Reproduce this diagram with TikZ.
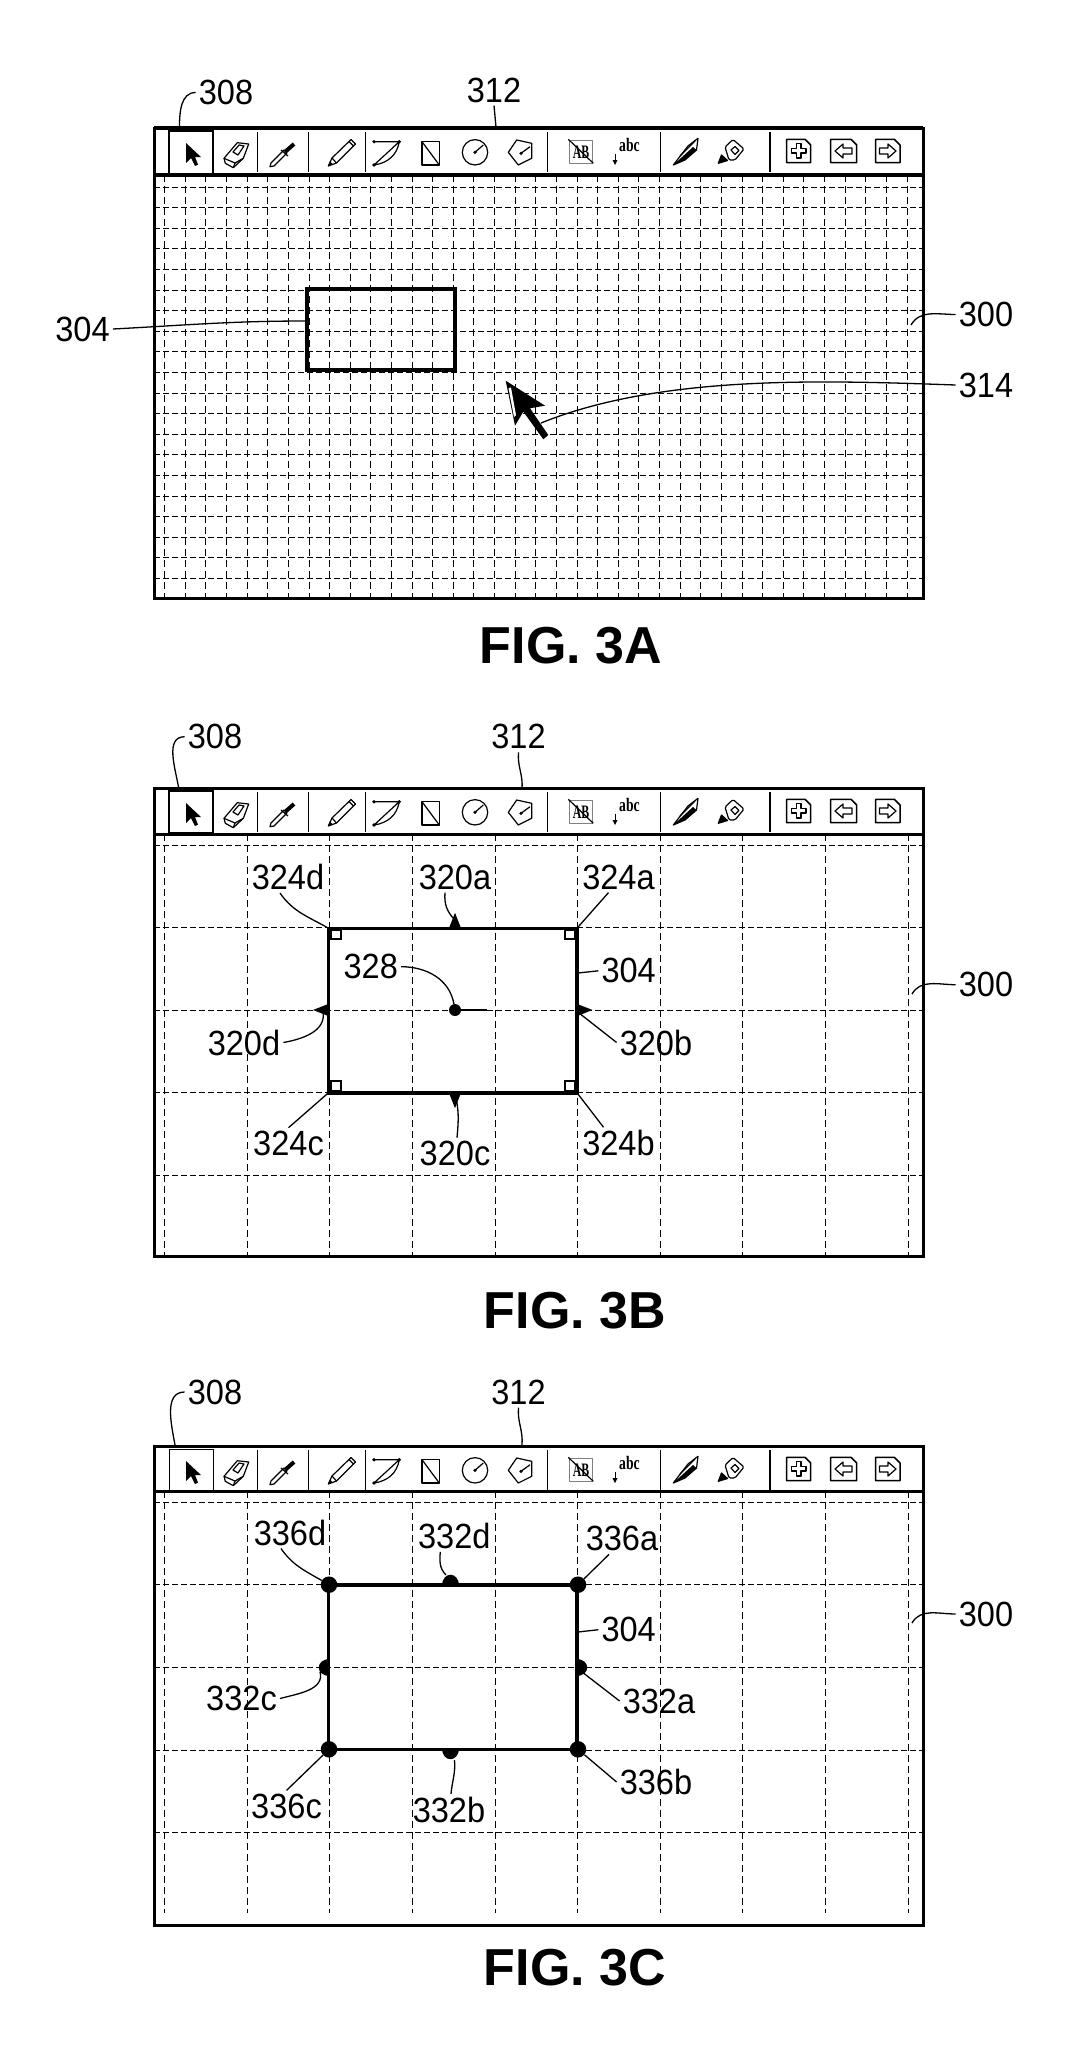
\documentclass[tikz,border=0pt]{standalone}
\usepackage{fontspec}
\setmainfont{Liberation Sans}
\newfontfamily\labfont[FakeStretch=0.93]{Liberation Sans}
\newfontfamily\iconfont{Liberation Serif}
\tikzset{
	lab/.style = {inner sep = 3pt, font = \labfont\fontsize{35}{35}\selectfont},
	figlab/.style = {inner sep = 0pt, font = \fontsize{52}{52}\selectfont\bfseries},
	frame/.style = {line width = 3pt},
	hgrid/.style = {line width = 1.2pt, dash pattern = on 6pt off 3pt},
	vgrid/.style = {line width = 1.2pt, dash pattern = on 7pt off 4pt},
	leader/.style = {line width = 1.3pt},
	shape304/.style = {draw, line width = 3.8pt, inner sep = 0pt, outer sep = 0pt},
	icon/.style = {line width = 1.2pt, line join = round},
	sep/.style = {line width = 1.5pt},
	corner/.style = {line width = 1.2pt},
	halfdot/.pic = {\fill (-8.5, 1) .. controls (-8.5, -13.5) and (8.5, -13.5) .. (8.5, 1) -- cycle;},
	tabmark/.pic = {\fill (-6.5, 1) -- (0, -15.5) -- (6.5, 1) -- cycle;}
}
\newcommand{\toolbar}[3]{
	\begin{scope}[shift = {(0, #1)}]
		%%%%%%%%%%%%%
		\draw [line width = #3] (169, 3) rectangle (213, #2);
		\foreach \sx in {257.5, 308.6, 365.7, 547.3, 660.3, 770} {
			\draw [sep] (\sx, 4) -- (\sx, 44);
		}
		%%%%%%%%%%%%%
		\fill (186, 15) -- (186, 35) -- (191, 30) -- (195, 38) -- (198, 36.5) -- (195, 29) -- (201, 29) -- cycle;
		\draw [icon] (224, 30.3) -- (237.3, 14.7) -- (248.7, 16) -- (243.3, 30.3) -- (233.3, 39.7) -- (225.3, 35.3) -- cycle;
		\draw [icon] (233, 24) -- (239, 17) -- (244, 18) -- (238, 27) -- cycle;
		\draw [icon] (224, 30.3) -- (235, 35) -- (243.3, 30.3); \draw [icon] (235, 35) -- (233.3, 39.7);
		%dropper
		\draw [icon] (270, 38.7) -- (271, 35) -- (284, 22) -- (287, 25) -- (274, 38) -- cycle;
		\draw [line width = 4pt] (285, 24) -- (294, 16);
		\draw [icon] (281, 22) -- (288, 28);
		%pencil
		\draw [icon] (328.3, 38) -- (332, 30) -- (351, 11.5) -- (355.5, 16) -- (336.5, 35) -- cycle;
		\draw [icon] (332, 30) -- (336.5, 35); \draw [icon] (349, 13.5) -- (353.5, 18);
		\fill (328.3, 38) -- (330, 33.5) -- (333, 36.5) -- cycle;
		%drawing shapes
		\draw [icon] (374, 13.7) -- (399.3, 13.7) -- (374, 37) .. controls (388, 35) and (397, 27) .. (399.3, 13.7);
		\fill (374, 13.7) circle (1.8); \fill (374, 37) circle (1.8); \fill (399.3, 13.7) circle (1.8);
		\draw [icon] (422, 13.7) rectangle (439.3, 37); \draw [icon] (422, 13.7) -- (439.3, 37);
		\draw [icon] (475, 24.3) circle (12.7); \draw [icon] (475, 24.3) -- (483.3, 17); \fill (475, 24.3) circle (1.8);
		\draw [icon] (508.3, 24.3) -- (516.7, 12) -- (531.7, 15.3) -- (531.7, 30.3) -- (518.3, 37) -- cycle;
		\draw [icon] (521, 25.3) -- (530, 18.7); \fill (521, 25.3) circle (1.8);
		%text tools
		\draw [icon, gray] (569.3, 12.7) rectangle (592.7, 35.3);
		\node (ab#1) at (581, 24.5) [inner sep = 0pt, font = \iconfont\fontsize{19}{19}\selectfont\bfseries] {\scalebox{0.62}[1]{AB}};
		\draw [icon] (568.3, 11.3) -- (593.3, 35.3);
		\node (abc#1) at (629.5, 16.5) [inner sep = 0pt, font = \iconfont\fontsize{19}{19}\selectfont\bfseries] {\scalebox{0.72}[1]{abc}};
		\draw [line width = 1pt] (615, 25.5) -- (615, 33);
		\fill (612.5, 32) -- (617.5, 32) -- (615, 37) -- cycle;
		%pen and marker
		\draw [icon] (673.3, 37) -- (688, 18) -- (698, 10.3) -- (696.5, 22) -- (685, 32) -- cycle;
		\fill (673.3, 37) -- (693, 19) -- (696.5, 22) -- (685, 32) -- cycle;
		\draw [icon] (680, 28) -- (695, 13);
		\draw [icon, rounded corners = 1.5pt] (725, 19) -- (733, 11.5) -- (744, 21) -- (735, 32) -- (729, 32) -- cycle;
		\draw [icon] (731, 22) -- (735, 18.5) -- (739, 22.5) -- (735, 26.5) -- cycle;
		\draw [icon, fill] (718.3, 35.3) -- (721.5, 27) -- (727.5, 32.5) -- cycle;
		%pages
		\draw [icon, line width = 1.5pt] (786.7, 11.3) -- (805, 11.3) -- (810.7, 17) -- (810.7, 34.7) -- (786.7, 34.7) -- cycle;
		\draw [icon] (796.5, 15.5) -- (801, 15.5) -- (801, 20.5) -- (806, 20.5) -- (806, 25) -- (801, 25) -- (801, 30) -- (796.5, 30) -- (796.5, 25) -- (791.5, 25) -- (791.5, 20.5) -- (796.5, 20.5) -- cycle;
		\draw [icon, line width = 1.5pt] (830.7, 11.3) -- (851, 11.3) -- (856.7, 17) -- (856.7, 34.7) -- (830.7, 34.7) -- cycle;
		\draw [icon] (835, 23) -- (843, 16) -- (843, 20) -- (852, 20) -- (852, 26) -- (843, 26) -- (843, 30) -- cycle;
		\draw [icon, line width = 1.5pt] (875.7, 11.3) -- (894.3, 11.3) -- (900, 17) -- (900, 34.7) -- (875.7, 34.7) -- cycle;
		\draw [icon] (896, 23) -- (888, 16) -- (888, 20) -- (879.5, 20) -- (879.5, 26) -- (888, 26) -- (888, 30) -- cycle;
	\end{scope}
}

\begin{document}
\begin{tikzpicture}[x = 1pt, y = -1pt]
		\useasboundingbox (0, 0) rectangle (1080, 2048);
		%%%%%%%%%%%%% FIG. 3A
		\foreach \k in {0, ..., 19} {\draw [hgrid] (154, {floor(187 + 20.6 * \k) + 0.5}) -- (923, {floor(187 + 20.6 * \k) + 0.5});}
		\foreach \k in {0, ..., 36} {\draw [vgrid] ({floor(164.7 + 20.62 * \k) + 0.5}, 175) -- ({floor(164.7 + 20.62 * \k) + 0.5}, 598);}
		\draw [frame] (154, 128) rectangle (923, 598);
		\draw [line width = 4pt] (154, 128) -- (923, 128); \draw [line width = 4pt] (154, 175) -- (923, 175);
		\toolbar{128}{46}{2pt}
		\node (rA) at (381, 329.5) [shape304, minimum width = 148pt, minimum height = 81pt] {};
		\node (l308A) at (226, 92.5) [lab] {308};
		\node (l312A) at (494, 90) [lab] {312};
		\node (l304A) at (82.5, 329) [lab] {304};
		\node (l300A) at (986, 314.5) [lab] {300};
		\node (l314A) at (986, 385) [lab] {314};
		\node (capA) at (571, 645.5) [figlab] {FIG. 3A};
		\coordinate (e308A) at (179.5, 127);
		\coordinate (e312A) at (496, 127);
		\coordinate (e304A) at (307, 321);
		\coordinate (e300A) at (911, 325);
		\coordinate (e314A) at (541, 423);
		\draw [leader] (l308A.west) to [out = 180, in = 90] (e308A);
		\draw [leader] (l312A.south) to (e312A);
		\draw [leader] (l304A.east) to [out = 3, in = 180] (e304A);
		\draw [leader] (l300A.west) to [out = 180, in = 60] (e300A);
		\draw [leader] (l314A.west) to [out = 178, in = 22, looseness = 0.8] (e314A);
		%cursor
		\fill (505.7, 380.7) -- (545, 405.7) -- (530, 408.3) -- (548.3, 435) -- (543.3, 439.3) -- (523.3, 411.7) -- (515, 425.7) -- cycle;
		\fill [white] (508.5, 388) -- (511, 387.5) -- (516, 415) -- (514, 417) -- cycle;
		%%%%%%%%%%%%% FIG. 3B
		\foreach \k in {0, ..., 4} {\draw [hgrid] (154, {floor(845 + 82.6 * \k) + 0.5}) -- (923, {floor(845 + 82.6 * \k) + 0.5});}
		\foreach \k in {0, ..., 9} {\draw [vgrid] ({floor(164.7 + 82.6 * \k) + 0.5}, 834) -- ({floor(164.7 + 82.6 * \k) + 0.5}, 1256);}
		\draw [frame] (154, 788) rectangle (923, 1256);
		\draw [frame] (154, 834) -- (923, 834);
		\toolbar{788}{45}{1.5pt}
		\node (rB) at (452.75, 1010.5) [shape304, line width = 3.5pt, minimum width = 248.5pt, minimum height = 164.5pt] {};
		\draw [corner] (331, 930) rectangle (341, 939); \draw [corner] (565, 930) rectangle (575, 939);
		\draw [corner] (331, 1081) rectangle (341, 1091); \draw [corner] (565, 1081) rectangle (575, 1091);
		\pic at (455, 928.3) {tabmark};
		\pic [rotate = -90] at (577, 1010) {tabmark};
		\pic [rotate = 180] at (455, 1092.7) {tabmark};
		\pic [rotate = 90] at (328.5, 1010) {tabmark};
		\node (dotB) at (455, 1010) [circle, fill, inner sep = 0pt, minimum size = 12pt] {};
		\coordinate (hB) at (487, 1010);
		\draw [line width = 2pt] (dotB) to (hB);
		\node (l308B) at (215, 736.7) [lab] {308};
		\node (l312B) at (518.5, 736.7) [lab] {312};
		\node (l324dB) at (288, 877) [lab] {324d};
		\node (l320aB) at (455, 877) [lab] {320a};
		\node (l324aB) at (618.5, 877) [lab] {324a};
		\node (l328B) at (370.8, 966.7) [lab] {328};
		\node (l304B) at (628.7, 970.8) [lab] {304};
		\node (l300B) at (986, 984.7) [lab] {300};
		\node (l320dB) at (244, 1042.5) [lab] {320d};
		\node (l320bB) at (656, 1042.5) [lab] {320b};
		\node (l324cB) at (288.5, 1143.3) [lab] {324c};
		\node (l320cB) at (455, 1153.3) [lab] {320c};
		\node (l324bB) at (618.5, 1143.3) [lab] {324b};
		\node (capB) at (575, 1310.5) [figlab] {FIG. 3B};
		\coordinate (e308B) at (178.5, 787);
		\coordinate (e312B) at (522, 789);
		\coordinate (e320aB) at (455, 920);
		\coordinate (e300B) at (912, 994);
		\coordinate (e304B) at (578, 973);
		\coordinate (e320dB) at (323, 1011.7);
		\coordinate (e320bB) at (579, 1013);
		\coordinate (e320cB) at (456.5, 1100);
		\draw [leader] (l308B.west) to [out = 180, in = 100] (e308B);
		\draw [leader] (l312B.south) to [out = -95, in = 85] (e312B);
		\draw [leader] (l324dB.south) ++(-8, 0) to [out = -55, in = 150] (rB.north west);
		\draw [leader] (l320aB.south) ++(-10, 0) to [out = -95, in = 135] (e320aB);
		\draw [leader] (l324aB.south) ++(-10, 0) to (rB.north east);
		\draw [leader] (l328B.east) to [out = 0, in = 100] (dotB);
		\draw [leader] (l304B.west) to (e304B);
		\draw [leader] (l300B.west) to [out = 180, in = 60] (e300B);
		\draw [leader] (l320dB.east) to [out = 10, in = -80] (e320dB);
		\draw [leader] (l320bB.west) to (e320bB);
		\draw [leader] (l324cB.north) to (rB.south west);
		\draw [leader] (l320cB.north) ++(2, 0) to [out = 85, in = -80] (e320cB);
		\draw [leader] (l324bB.north) ++(-15, 0) to (rB.south east);
		%%%%%%%%%%%%% FIG. 3C
		\foreach \k in {0, ..., 4} {\draw [hgrid] (154, {floor(1502.3 + 82.6 * \k) + 0.5}) -- (923, {floor(1502.3 + 82.6 * \k) + 0.5});}
		\foreach \k in {0, ..., 9} {\draw [vgrid] ({floor(164.7 + 82.6 * \k) + 0.5}, 1491) -- ({floor(164.7 + 82.6 * \k) + 0.5}, 1913);}
		\draw [frame] (154, 1446) rectangle (923, 1925);
		\draw [frame] (154, 1491) -- (923, 1491);
		\toolbar{1446}{44}{1pt}
		\node (rC) at (452.75, 1667) [shape304, line width = 3.5pt, minimum width = 248.5pt, minimum height = 164.5pt] {};
		\foreach \cname/\cx/\cy in {dC/329/1584.7, aC/578/1584.7, cC/329/1749.3, bC/578/1749.3} {
			\node (\cname) at (\cx, \cy) [circle, fill, inner sep = 0pt, minimum size = 16.5pt] {};
		}
		\pic at (450.4, 1584.7) {halfdot};
		\pic [rotate = -90] at (577, 1667) {halfdot};
		\pic [rotate = 180] at (450.4, 1749.3) {halfdot};
		\pic [rotate = 90] at (328.5, 1667) {halfdot};
		\node (l308C) at (215, 1392) [lab] {308};
		\node (l312C) at (518.5, 1392) [lab] {312};
		\node (l336dC) at (290, 1532.5) [lab] {336d};
		\node (l332dC) at (454.3, 1535.8) [lab] {332d};
		\node (l336aC) at (622, 1538.8) [lab] {336a};
		\node (l304C) at (628.7, 1629.7) [lab] {304};
		\node (l300C) at (986, 1614) [lab] {300};
		\node (l332cC) at (241.5, 1698.5) [lab] {332c};
		\node (l332aC) at (659, 1701) [lab] {332a};
		\node (l336bC) at (656, 1782) [lab] {336b};
		\node (l336cC) at (286.5, 1806) [lab] {336c};
		\node (l332bC) at (449, 1810) [lab] {332b};
		\node (capC) at (575, 1967.5) [figlab] {FIG. 3C};
		\coordinate (e308C) at (175, 1445);
		\coordinate (e312C) at (522, 1445);
		\coordinate (e332dC) at (446, 1575);
		\coordinate (e304C) at (578, 1632);
		\coordinate (e300C) at (912, 1623);
		\coordinate (e332cC) at (320, 1671.7);
		\coordinate (e332aC) at (583, 1672.7);
		\coordinate (e332bC) at (454.5, 1760);
		\draw [leader] (l308C.west) to [out = 180, in = 100] (e308C);
		\draw [leader] (l312C.south) to [out = -95, in = 85] (e312C);
		\draw [leader] (l336dC.south) ++(-9, 0) to [out = -55, in = 150] (dC);
		\draw [leader] (l332dC.south) ++(-14, 0) to [out = -95, in = 135] (e332dC);
		\draw [leader] (l336aC.south) ++(-13, 0) to (aC);
		\draw [leader] (l304C.west) to (e304C);
		\draw [leader] (l300C.west) to [out = 180, in = 60] (e300C);
		\draw [leader] (l332cC.east) to [out = 15, in = -75] (e332cC);
		\draw [leader] (l332aC.west) to (e332aC);
		\draw [leader] (l336bC.west) to (bC);
		\draw [leader] (l336cC.north) to (cC);
		\draw [leader] (l332bC.north) ++(2, 0) to [out = 85, in = -85] (e332bC);
\end{tikzpicture}
\end{document}
